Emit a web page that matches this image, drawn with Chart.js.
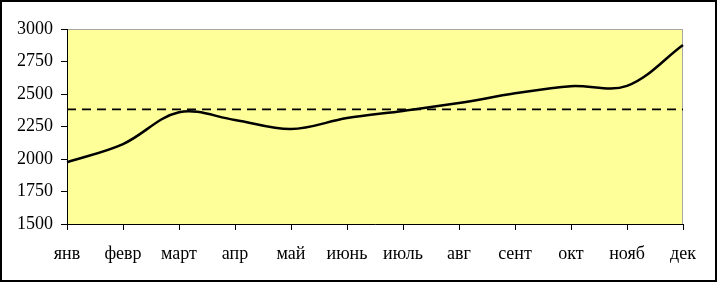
<!DOCTYPE html>
<html>
<head>
<meta charset="utf-8">
<script src="https://cdn.jsdelivr.net/npm/chart.js@4/dist/chart.umd.min.js"></script>
<style>
html,body{margin:0;padding:0;background:#fff;}
#wrap{width:717px;height:282px;position:relative;}
</style>
</head>
<body>
<div id="wrap"><canvas id="c" width="717" height="282"></canvas></div>
<script>
const months = ['янв','февр','март','апр','май','июнь','июль','авг','сент','окт','нояб','дек'];
const values = [1975, 2115, 2360, 2300, 2230, 2315, 2370, 2430, 2505, 2560, 2562, 2877];
const averageLine = [2382, 2382, 2382, 2382, 2382, 2382, 2382, 2382, 2382, 2382, 2382, 2382];
const yTicks = {min: 1500, max: 3000, step: 250};

const bgPlugin = {
  id: 'bg',
  beforeDraw(chart) {
    const {ctx, chartArea: a, width, height} = chart;
    ctx.save();
    ctx.fillStyle = '#ffffff';
    ctx.fillRect(0, 0, width, height);
    ctx.fillStyle = '#ffff99';
    ctx.fillRect(a.left, a.top, a.right - a.left, a.bottom - a.top);
    ctx.strokeStyle = '#a8a8a0';
    ctx.lineWidth = 1;
    ctx.strokeRect(a.left + 0.5, a.top + 0.5, a.right - a.left - 1, a.bottom - a.top);
    ctx.restore();
  },
  afterDraw(chart) {
    const {ctx, width, height} = chart;
    ctx.save();
    ctx.strokeStyle = '#000';
    ctx.lineWidth = 2;
    ctx.strokeRect(1, 1, width - 2, height - 2);
    ctx.restore();
  }
};

new Chart(document.getElementById('c'), {
  type: 'line',
  data: {
    labels: months,
    datasets: [
      {data: values, borderColor: '#000', borderWidth: 2.5, pointRadius: 0, tension: 0.35, fill: false},
      {data: averageLine, borderColor: '#000', borderWidth: 1.6, borderDash: [9, 6], pointRadius: 0, tension: 0, fill: false}
    ]
  },
  options: {
    responsive: false,
    animation: false,
    devicePixelRatio: 1,
    layout: {padding: {left: 0, top: 29, right: 34, bottom: 0}},
    plugins: {legend: {display: false}, tooltip: {enabled: false}},
    scales: {
      x: {
        offset: false,
        grid: {drawOnChartArea: false, drawTicks: true, tickLength: 6, color: '#000', lineWidth: 1},
        border: {display: true, color: '#000', width: 1},
        ticks: {color: '#000', font: {family: 'Liberation Serif', size: 18}, padding: 13, maxRotation: 0, autoSkip: false},
        afterFit(s) { s.height = 58; }
      },
      y: {
        min: yTicks.min, max: yTicks.max,
        grid: {drawOnChartArea: false, drawTicks: true, tickLength: 6, color: '#000', lineWidth: 1},
        border: {display: true, color: '#000', width: 1},
        ticks: {stepSize: yTicks.step, color: '#000', font: {family: 'Liberation Serif', size: 18}, padding: 8,
          callback: (v) => String(v)},
        afterFit(s) { s.width = 67; }
      }
    }
  },
  plugins: [bgPlugin]
});
</script>
</body>
</html>
